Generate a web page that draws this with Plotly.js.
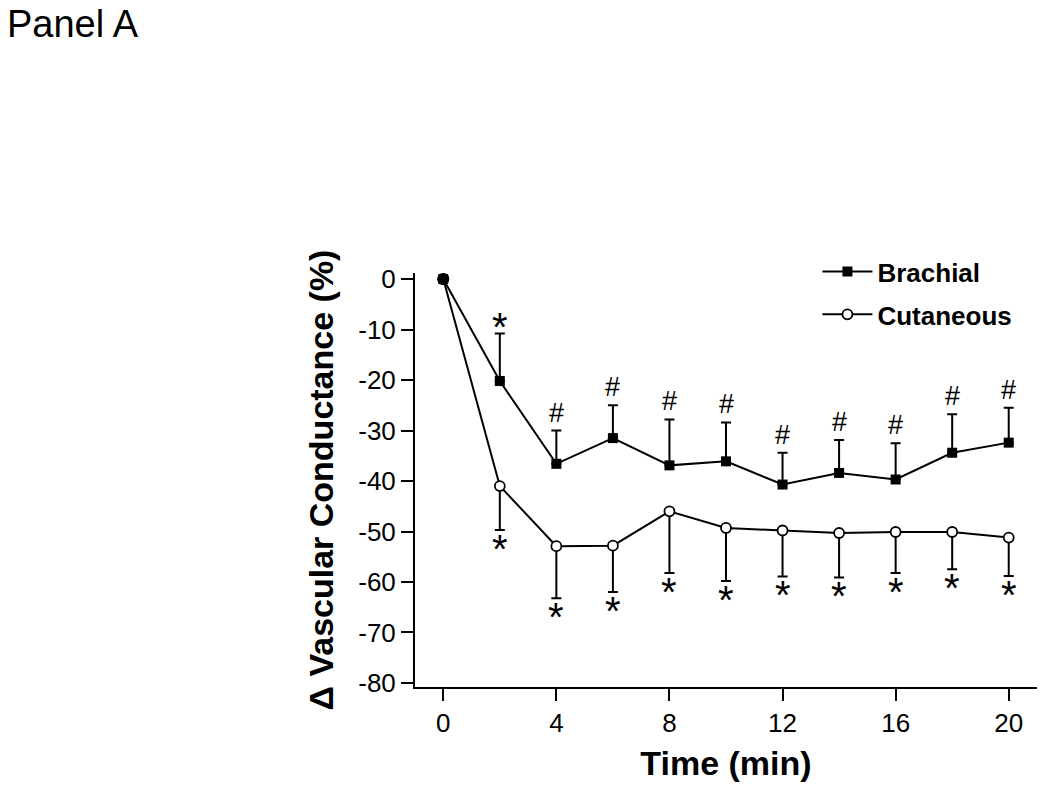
<!DOCTYPE html>
<html><head><meta charset="utf-8">
<script src="https://cdn.plot.ly/plotly-3.0.1.min.js"></script>
<style>html,body{margin:0;padding:0;background:#fff}#chart{width:1050px;height:787px}</style>
</head><body><div id="chart"></div>
<script>
const time = [0, 2, 4, 6, 8, 10, 12, 14, 16, 18, 20];
const brachial = [0, -20.2, -36.6, -31.5, -36.9, -36.1, -40.7, -38.4, -39.7, -34.4, -32.4];
const brachialErr = [0, 9.4, 6.6, 6.5, 9.1, 7.7, 6.3, 6.5, 7.2, 7.6, 6.9];
const cutaneous = [0, -41.0, -52.9, -52.8, -46.0, -49.3, -49.8, -50.3, -50.1, -50.1, -51.2];
const cutaneousErr = [0, 8.7, 10.3, 9.2, 12.2, 10.5, 9.1, 8.8, 8.1, 7.4, 7.6];
const brachialMarks = ['', '*', '#', '#', '#', '#', '#', '#', '#', '#', '#'];
const cutaneousMarks = ['', '*', '*', '*', '*', '*', '*', '*', '*', '*', '*'];
const xTicks = [0, 4, 8, 12, 16, 20];
const yTicks = [0, -10, -20, -30, -40, -50, -60, -70, -80];

const FONT = 'Liberation Sans, Arial, sans-serif';

const traces = [
  {
    x: time, y: brachial, name: 'Brachial', mode: 'lines+markers', type: 'scatter', legendgroup: 'b',
    line: {color: '#000', width: 2},
    marker: {symbol: 'square', size: 10, color: '#000'},
    error_y: {type: 'data', symmetric: false, array: brachialErr, arrayminus: time.map(() => 0),
              color: '#000', thickness: 2, width: 5}
  },
  {
    x: time, y: cutaneous, name: 'Cutaneous', mode: 'lines+markers', type: 'scatter', legendgroup: 'c',
    line: {color: '#000', width: 2},
    marker: {symbol: 'circle', size: 10, color: '#fff', line: {color: '#000', width: 1.8}},
    error_y: {type: 'data', symmetric: false, array: time.map(() => 0), arrayminus: cutaneousErr,
              color: '#000', thickness: 2, width: 5}
  },
  {
    x: [time[0]], y: [brachial[0]], name: 'Baseline', mode: 'markers', type: 'scatter', showlegend: false,
    marker: {symbol: 'circle', size: 12, color: '#000'}
  }
];

const annotations = [];
time.forEach((t, i) => {
  if (brachialMarks[i]) {
    const star = brachialMarks[i] === '*';
    annotations.push({
      x: t, y: brachial[i] + brachialErr[i], xref: 'x', yref: 'y',
      text: brachialMarks[i], showarrow: false, yanchor: 'bottom', borderpad: 0,
      yshift: star ? -16 : 2,
      font: {family: FONT, size: star ? 40 : 27, color: '#000'}
    });
  }
  if (cutaneousMarks[i]) {
    annotations.push({
      x: t, y: cutaneous[i] - cutaneousErr[i], xref: 'x', yref: 'y',
      text: cutaneousMarks[i], showarrow: false, yanchor: 'top', borderpad: 0,
      yshift: 4,
      font: {family: FONT, size: 40, color: '#000'}
    });
  }
});
annotations.push({
  x: 0, y: 1, xref: 'paper', yref: 'paper', xanchor: 'left', yanchor: 'top',
  xshift: -409, yshift: 271, text: 'Panel A', showarrow: false, borderpad: 0,
  font: {family: FONT, size: 38, color: '#000'}
});

const layout = {
  width: 1050, height: 787,
  margin: {l: 415, r: 13, t: 273, b: 100},
  paper_bgcolor: '#fff', plot_bgcolor: '#fff',
  font: {family: FONT, color: '#000'},
  showlegend: true,
  legend: {x: 0.647, xanchor: 'left', y: 1.06, yanchor: 'top', bgcolor: 'rgba(0,0,0,0)', itemwidth: 50,
           font: {family: FONT, size: 26, weight: 'bold', color: '#000'}, tracegroupgap: 6},
  xaxis: {
    range: [-1, 21], tickvals: xTicks, ticktext: xTicks.map(String),
    showgrid: false, zeroline: false, showline: true, linecolor: '#000', linewidth: 2,
    ticks: 'outside', ticklen: 12, tickwidth: 2, tickcolor: '#000',
    tickfont: {family: FONT, size: 26, color: '#000'},
    title: {text: 'Time (min)', font: {family: FONT, size: 34, weight: 'bold', color: '#000'}, standoff: 14}
  },
  yaxis: {
    range: [-80.8, 1.2], tickvals: yTicks, ticktext: yTicks.map(String),
    showgrid: false, zeroline: false, showline: true, linecolor: '#000', linewidth: 2,
    ticks: 'outside', ticklen: 12, tickwidth: 2, tickcolor: '#000',
    tickfont: {family: FONT, size: 26, color: '#000'},
    title: {text: 'Δ Vascular Conductance (%)', font: {family: FONT, size: 34, weight: 'bold', color: '#000'}, standoff: 14}
  },
  annotations: annotations
};

Plotly.newPlot('chart', traces, layout, {displayModeBar: false, staticPlot: true});
</script></body></html>
